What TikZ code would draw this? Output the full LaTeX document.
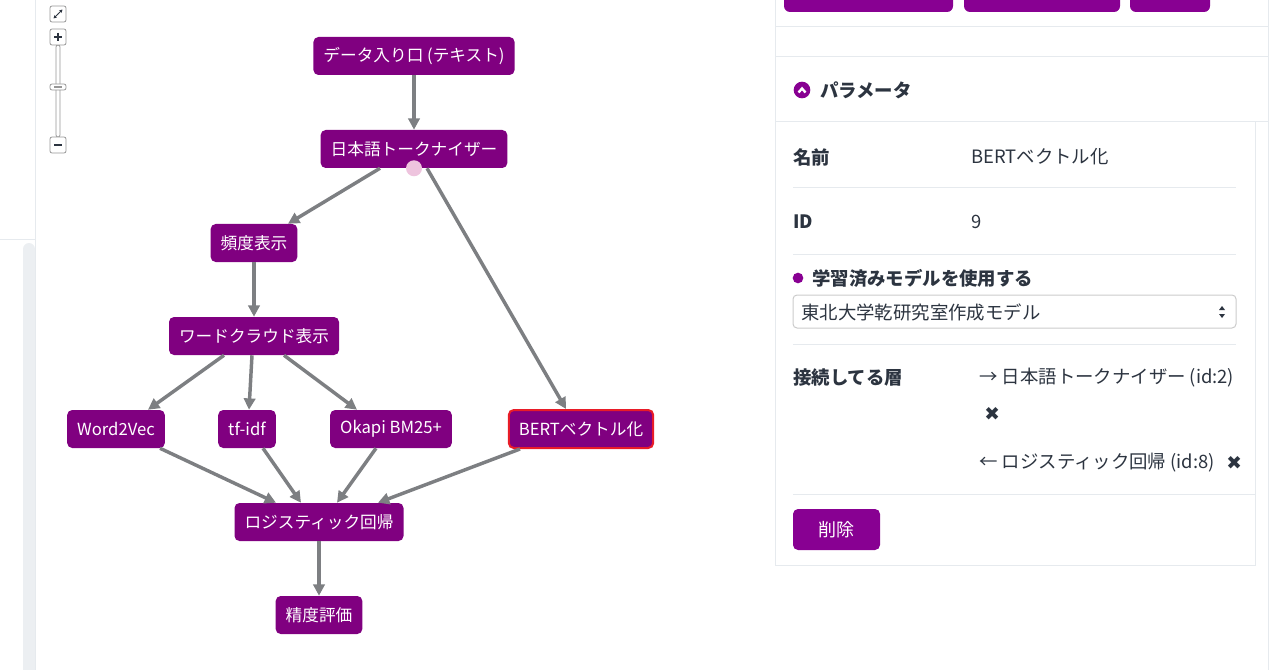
\documentclass[tikz,border=0pt]{standalone}
\usepackage{fontspec}
\usepackage{tikz}
\usepackage{xcolor}
\usetikzlibrary{arrows.meta}

\setmainfont{Noto Sans CJK JP}
\newfontfamily\symfont{DejaVu Sans}

\definecolor{nodepurple}{RGB}{128,0,128}
\definecolor{btnpurple}{RGB}{136,0,146}
\definecolor{edgegray}{RGB}{125,127,130}
\definecolor{panelline}{RGB}{230,234,238}
\definecolor{paneltext}{RGB}{44,52,64}
\definecolor{dotpink}{RGB}{238,196,222}
\definecolor{selred}{RGB}{232,28,40}
\definecolor{ctrlgray}{RGB}{150,150,150}
\definecolor{scrollgray}{RGB}{236,239,242}

\begin{document}
\begin{tikzpicture}[x=0.75pt,y=-0.75pt,->,>={Triangle[length=8.5pt,width=8.5pt]},
    node distance=69.75pt,
    base/.style={rectangle,rounded corners=3.75pt,fill=nodepurple,text=white,
        font=\fontsize{12.5pt}{15pt}\selectfont,minimum height=28.5pt,inner xsep=7.5pt,inner ysep=0pt},
    flow/.style={every edge/.style={draw=edgegray,line width=2.6pt}},
    label/.style={anchor=west,text=paneltext,inner sep=0pt,font=\fontsize{13.8pt}{16pt}\selectfont\bfseries},
    value/.style={anchor=west,text=paneltext,inner sep=0pt,font=\fontsize{13.8pt}{16pt}\selectfont},
    sep/.style={-,draw=panelline,line width=0.75pt},
    ctrl/.style={-,draw=ctrlgray,fill=white,rounded corners=1.5pt,line width=0.6pt}]

    \useasboundingbox (0,0) rectangle (1280,670);
    \clip (0,0) rectangle (1280,670);

    % left side bar and zoom controls
    \draw[sep] (35,0) -- (35,670);
    \draw[sep] (0,240) -- (35,240);
    \fill[scrollgray,rounded corners=4.5pt] (23,243) rectangle (35,680);
    \draw[ctrl] (56,45) rectangle (60,137);
    \draw[ctrl] (50,6) rectangle (66,22);
    \draw[-{Stealth[length=2.5pt,width=2.5pt]},draw=paneltext,line width=0.6pt] (58,14) -- (62.5,9.5);
    \draw[-{Stealth[length=2.5pt,width=2.5pt]},draw=paneltext,line width=0.6pt] (58,14) -- (53.5,18.5);
    \draw[ctrl] (50,29) rectangle (66,45);
    \draw[-,draw=paneltext,line width=1.5pt] (54,37) -- (62,37) (58,33) -- (58,41);
    \draw[ctrl] (50,84) rectangle (66,90);
    \draw[-,draw=ctrlgray,line width=1pt] (54,87) -- (62,87);
    \draw[ctrl] (50,137) rectangle (66,153);
    \draw[-,draw=paneltext,line width=1.2pt] (54,145) -- (62,145);

    % layers
    \node[base] (data) at (414,56) {データ入り口 (テキスト)};
    \node[base, below of=data] (tok) {日本語トークナイザー};
    \node[base] (freq) at (254,243) {頻度表示};
    \node[base, below of=freq] (cloud) {ワードクラウド表示};
    \node[base] (w2v) at (116,429) {Word2Vec};
    \node[base] (tfidf) at (247,429) {tf-idf};
    \node[base] (okapi) at (391,429) {Okapi BM25+};
    \node[base, draw=selred, line width=1.5pt] (bert) at (581,429) {BERTベクトル化};
    \node[base] (logi) at (319,522) {ロジスティック回帰};
    \node[base, below of=logi] (eval) {精度評価};
    \node[circle, fill=dotpink, minimum size=12pt, inner sep=0pt] (port) at (tok.south) {};

    \path[flow]
    {
        (data) edge (tok)
        ([xshift=-25.5pt]tok.south) edge ([xshift=25.5pt]freq.north)
        ([xshift=9.75pt]tok.south) edge ([xshift=-11.25pt]bert.north)
        (freq) edge (cloud)
        ([xshift=-22.5pt]cloud.south) edge ([xshift=24pt]w2v.north)
        ([xshift=-1.5pt]cloud.south) edge ([xshift=1.5pt]tfidf.north)
        ([xshift=22.5pt]cloud.south) edge ([xshift=-25.5pt]okapi.north)
        ([xshift=33pt]w2v.south) edge ([xshift=-32.25pt]logi.north)
        ([xshift=12pt]tfidf.south) edge ([xshift=-13.5pt]logi.north)
        ([xshift=-11.25pt]okapi.south) edge ([xshift=13.5pt]logi.north)
        ([xshift=-45.75pt]bert.south) edge ([xshift=44.25pt]logi.north)
        (logi) edge (eval)
    };

    % parameter panel
    \fill[btnpurple,rounded corners=4.5pt] (784,-10) rectangle (953,12);
    \fill[btnpurple,rounded corners=4.5pt] (964,-10) rectangle (1120,12);
    \fill[btnpurple,rounded corners=4.5pt] (1130,-10) rectangle (1210,12);
    \draw[sep] (775,0) -- (775,565) -- (1255,565) -- (1255,122);
    \draw[sep] (1268,0) -- (1268,670);
    \draw[sep] (775,27) -- (1268,27);
    \draw[sep] (775,57) -- (1268,57);
    \draw[sep] (775,122) -- (1268,122);

    \node[circle, fill=btnpurple, minimum size=12.5pt, inner sep=0pt] (chev) at (802,90) {};
    \draw[-,draw=white,line width=1.8pt] (798.5,92.5) -- (802,88.5) -- (805.5,92.5);
    \node[label] (ptitle) at (820,90) {パラメータ};

    \node[label] (lname) at (793,157) {名前};
    \node[value] (vname) at (971,157) {BERTベクトル化};
    \draw[sep] (793,188) -- (1236,188);
    \node[label] (lid) at (793,222) {ID};
    \node[value] (vid) at (971,222) {9};
    \draw[sep] (793,254) -- (1236,254);
    \node[circle, fill=btnpurple, minimum size=8pt, inner sep=0pt] (mdot) at (798,278) {};
    \node[label] (lmodel) at (812,278) {学習済みモデルを使用する};
    \draw[-,draw=ctrlgray!50,line width=0.75pt,rounded corners=3pt] (793,295) rectangle (1236,328);
    \node[value] (vmodel) at (801,312) {東北大学乾研究室作成モデル};
    \fill[paneltext] (1219,310) -- (1225,310) -- (1222,306) -- cycle;
    \fill[paneltext] (1219,314) -- (1225,314) -- (1222,318) -- cycle;
    \draw[sep] (793,344) -- (1236,344);

    \node[label] (lconn) at (793,378) {接続してる層};
    \node[value] (vin) at (979,378) {→ 日本語トークナイザー (id:2)};
    \node[value, font=\fontsize{14pt}{16pt}\symfont] (xin) at (984,414) {✖};
    \node[value] (vout) at (979,463) {← ロジスティック回帰 (id:8)};
    \node[value, font=\fontsize{14pt}{16pt}\symfont] (xout) at (1226,463) {✖};
    \draw[sep] (793,494) -- (1255,494);

    \node[base, fill=btnpurple, minimum width=65.25pt, minimum height=30.75pt,
        font=\fontsize{13.5pt}{16pt}\selectfont] (del) at (836.5,529.5) {削除};
\end{tikzpicture}
\end{document}
